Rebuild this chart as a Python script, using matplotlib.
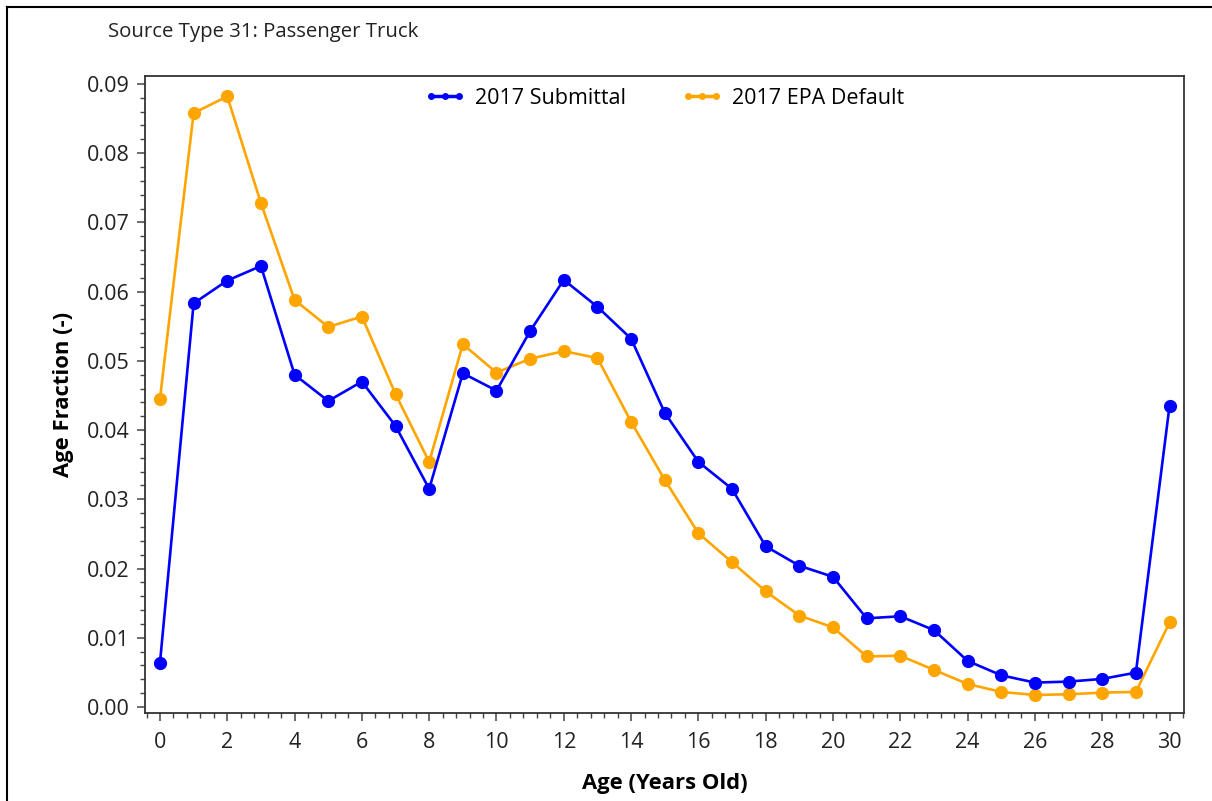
import numpy as np
import matplotlib.pyplot as plt
from matplotlib.lines import Line2D
from matplotlib.ticker import MultipleLocator, FormatStrFormatter

plt.rcParams['font.family'] = ['Open Sans', 'DejaVu Sans']

# age distribution, source type 31
ages = np.arange(0, 31)
submittal = [0.00636, 0.0583, 0.0616, 0.0637, 0.0480, 0.0442, 0.0470, 0.0406,
             0.0315, 0.0482, 0.0457, 0.0543, 0.0617, 0.0578, 0.0532, 0.0425,
             0.0354, 0.0315, 0.0232, 0.0204, 0.0188, 0.0128, 0.0131, 0.0111,
             0.00665, 0.00457, 0.00352, 0.00366, 0.00405, 0.00496, 0.0435]
epa_default = [0.0445, 0.0858, 0.0882, 0.0728, 0.0588, 0.0549, 0.0564, 0.0452,
               0.0354, 0.0524, 0.0483, 0.0503, 0.0514, 0.0504, 0.0412, 0.0328,
               0.0251, 0.0209, 0.0167, 0.0132, 0.0115, 0.00730, 0.00740, 0.00535,
               0.00332, 0.00217, 0.00173, 0.00183, 0.00207, 0.00217, 0.0122]

fig = plt.figure(figsize=(12.12, 8.01), dpi=100)
ax = fig.add_axes([0.1196, 0.1099, 0.8573, 0.7953])

ax.plot(ages, submittal, color='blue', lw=1.9, marker='o', ms=8.5, zorder=3)
ax.plot(ages, epa_default, color='orange', lw=1.9, marker='o', ms=8.5, zorder=2)

ax.set_xlim(-0.446, 30.43)
ax.set_ylim(-0.00087, 0.09116)
ax.xaxis.set_major_locator(MultipleLocator(2))
ax.xaxis.set_minor_locator(MultipleLocator(0.4))
ax.yaxis.set_major_locator(MultipleLocator(0.01))
ax.yaxis.set_minor_locator(MultipleLocator(0.002))
ax.yaxis.set_major_formatter(FormatStrFormatter('%.2f'))

ax.tick_params(which='major', direction='out', length=6, width=1.1,
               color='#444444', labelsize=15.5, labelcolor='#222222', pad=5)
ax.tick_params(axis='x', which='major', pad=8)
ax.tick_params(which='minor', direction='out', length=3.5, width=1,
               color='#444444')
for sp in ax.spines.values():
    sp.set_color('#333333')
    sp.set_linewidth(1.3)

ax.set_xlabel('Age (Years Old)', fontsize=15.8, fontweight='bold', labelpad=14)
ax.set_ylabel('Age Fraction (-)', fontsize=15.8, fontweight='bold', labelpad=9)

handles = [Line2D([], [], color='blue', lw=2.5, marker='o', ms=4),
           Line2D([], [], color='orange', lw=2.5, marker='o', ms=4)]
ax.legend(handles, ['2017 Submittal', '2017 EPA Default'], loc='upper center',
          ncol=2, frameon=False, fontsize=15.5, numpoints=3, handlelength=1.9,
          handletextpad=0.42, columnspacing=2.6, borderaxespad=0.15)

fig.text(108 / 1212, 1 - 32 / 801, 'Source Type 31: Passenger Truck',
         fontsize=14.7, color='#222222', va='center', ha='left')

# outer frame (top and left edges)
fig.add_artist(Line2D([7 / 1212, 1], [1 - 7 / 801, 1 - 7 / 801],
                      transform=fig.transFigure, color='black', lw=1.5))
fig.add_artist(Line2D([7 / 1212, 7 / 1212], [0, 1 - 7 / 801],
                      transform=fig.transFigure, color='black', lw=1.5))

fig.savefig('out.png', dpi=100)
